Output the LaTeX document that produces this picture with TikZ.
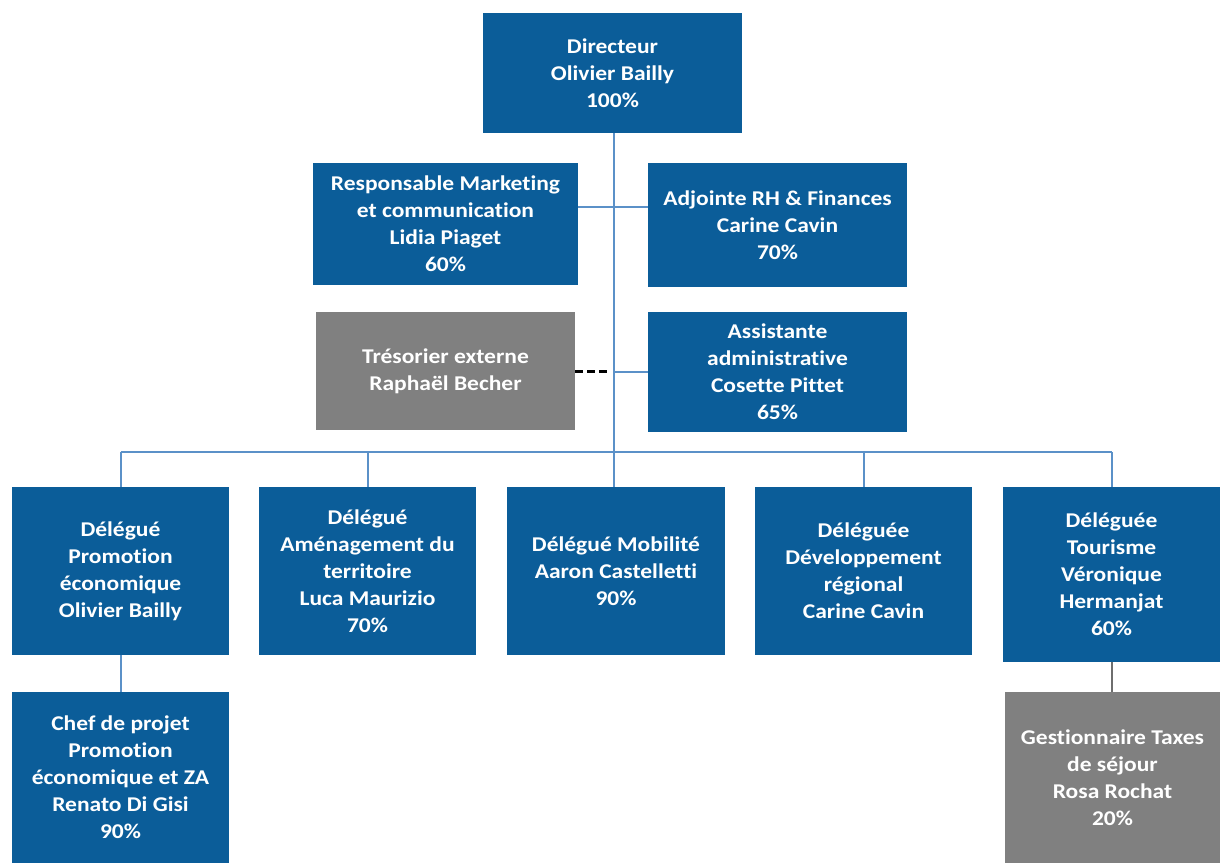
\documentclass[tikz,border=0pt]{standalone}
\usepackage{fontspec}
\setmainfont{Carlito}[FakeStretch=1.12,Ligatures=NoCommon]
\definecolor{boxblue}{RGB}{11,93,153}
\definecolor{boxgray}{RGB}{128,128,128}
\definecolor{linkblue}{RGB}{91,145,200}
\definecolor{linkgray}{RGB}{110,110,110}
\begin{document}
\begin{tikzpicture}[x=1pt,y=-1pt,
  box/.style={fill=boxblue, draw=none, text=white, font=\fontsize{21}{27}\selectfont\bfseries, align=center, inner sep=0pt},
  gbox/.style={box, fill=boxgray},
  link/.style={draw=linkblue, line width=2pt},
  glink/.style={draw=linkgray, line width=2pt},
  dlink/.style={draw=black, line width=3pt, dash pattern=on 8pt off 4pt}]
\useasboundingbox (0,0) rectangle (1220,863);
% top part
\node[box, minimum width=259pt, minimum height=120pt] (dir) at (612.5,73) {Directeur\\Olivier Bailly\\100\%};
\node[box, minimum width=265pt, minimum height=122pt] (mk) at (445.5,224) {Responsable Marketing\\et communication\\Lidia Piaget\\60\%};
\node[box, minimum width=259pt, minimum height=124pt] (rh) at (777.5,225) {Adjointe RH \& Finances\\Carine Cavin\\70\%};
\node[gbox, minimum width=259pt, minimum height=118pt] (tres) at (445.5,371) {Trésorier externe\\Raphaël Becher};
\node[box, minimum width=259pt, minimum height=120pt] (asst) at (777.5,372) {Assistante\\administrative\\Cosette Pittet\\65\%};
% row
\node[box, minimum width=217pt, minimum height=168pt] (d1) at (120.5,571) {Délégué\\Promotion\\économique\\Olivier Bailly};
\node[box, minimum width=217pt, minimum height=168pt] (d2) at (367.5,571) {Délégué\\Aménagement du\\territoire\\Luca Maurizio\\70\%};
\node[box, minimum width=218pt, minimum height=168pt] (d3) at (616,571) {Délégué Mobilité\\Aaron Castelletti\\90\%};
\node[box, minimum width=217pt, minimum height=168pt] (d4) at (863.5,571) {Déléguée\\Développement\\régional\\Carine Cavin};
\node[box, minimum width=217pt, minimum height=175pt] (d5) at (1111.5,574.5) {Déléguée\\Tourisme\\Véronique\\Hermanjat\\60\%};
% bottom
\node[box, minimum width=217pt, minimum height=171pt] (chef) at (120.5,777.5) {Chef de projet\\Promotion\\économique et ZA\\Renato Di Gisi\\90\%};
\node[gbox, minimum width=215pt, minimum height=171pt] (gest) at (1112.5,777.5) {Gestionnaire Taxes\\de séjour\\Rosa Rochat\\20\%};
% connectors
\coordinate (bus) at (614,452);
\draw[link] (dir.south -| bus) -- (bus);
\draw[link] (mk.east |- 0,207) -- (rh.west |- 0,207);
\draw[link] (asst.west) -- (asst.west -| bus);
\draw[dlink] (tres.east) -- ++(32,0);
\draw[link] (d1.north |- bus) -- (d5.north |- bus);
\draw[link] (d1.north |- bus) -- (d1.north);
\draw[link] (d2.north |- bus) -- (d2.north);
\draw[link] (bus) -- (d3.north -| bus);
\draw[link] (d4.north |- bus) -- (d4.north);
\draw[link] (d5.north |- bus) -- (d5.north);
\draw[link] (d1.south) -- (chef.north);
\draw[glink] (d5.south) -- (d5.south |- gest.north);
\end{tikzpicture}
\end{document}
